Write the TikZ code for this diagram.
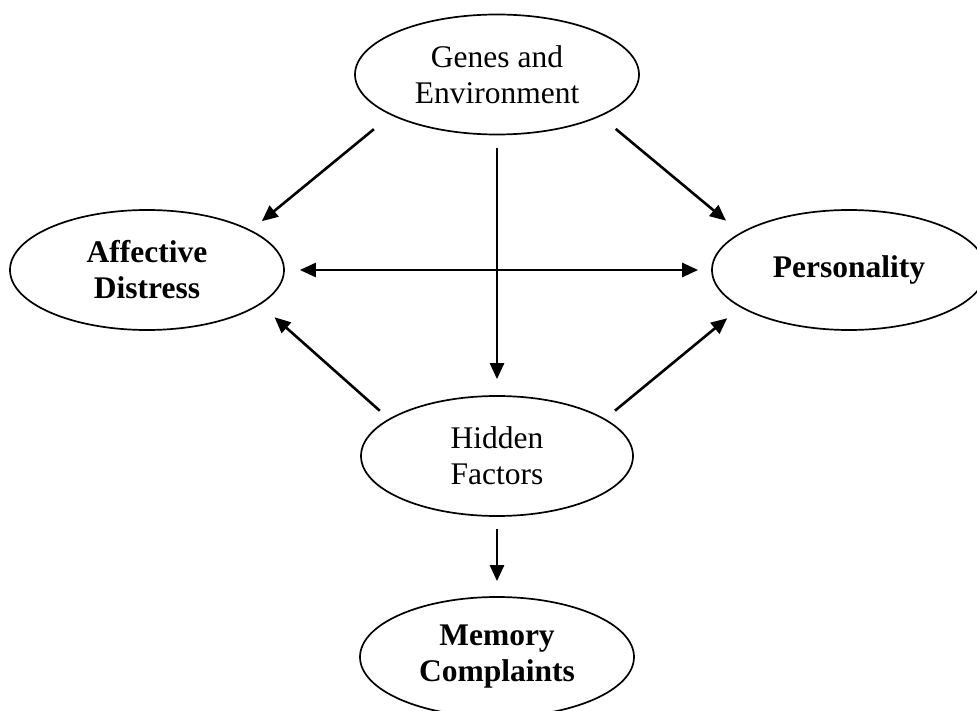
\documentclass[tikz,border=0pt]{standalone}
\usepackage{fontspec}
\setmainfont{Liberation Serif}
\usetikzlibrary{shapes.geometric,arrows.meta}
\begin{document}
\begin{tikzpicture}[x=1pt,y=-1pt,
  >={Triangle[length=16pt,width=14pt]},
  oval/.style={draw, ellipse, line width=1.7pt, minimum width=274pt, minimum height=120pt,
    inner sep=0pt, align=center, font=\fontsize{31.5}{36}\selectfont},
  boldoval/.style={oval, font=\fontsize{31.5}{36}\selectfont\bfseries},
  arr/.style={line width=2.6pt, ->}]
\useasboundingbox (0,0) rectangle (977,711);
\node[oval, minimum width=284pt] (G) at (497,74.5) {Genes and\\Environment};
\node[boldoval] (A) at (147,270) {Affective\\Distress};
\node[boldoval] (P) at (849,270) {Personality};
\node[oval, minimum width=272pt] (H) at (497,456) {Hidden\\Factors};
\node[boldoval] (M) at (497,657) {Memory\\Complaints};
\draw[arr, shorten <=22pt, shorten >=14pt] (G.201) -- (A.21.5);
\draw[arr, shorten <=19.6pt, shorten >=18.6pt] (G.338.6) -- (P.161);
\draw[arr, <->, shorten <=15pt, shorten >=13pt] (A) -- (P);
\draw[arr, shorten <=12.5pt, shorten >=16pt] (G) -- (H);
\draw[arr, shorten <=12pt, shorten >=19pt] (H.161) -- (A.343);
\draw[arr, shorten <=12.7pt, shorten >=17pt] (H.19) -- (P.199);
\draw[arr, shorten <=12pt, shorten >=15pt] (H) -- (M);
\end{tikzpicture}
\end{document}
